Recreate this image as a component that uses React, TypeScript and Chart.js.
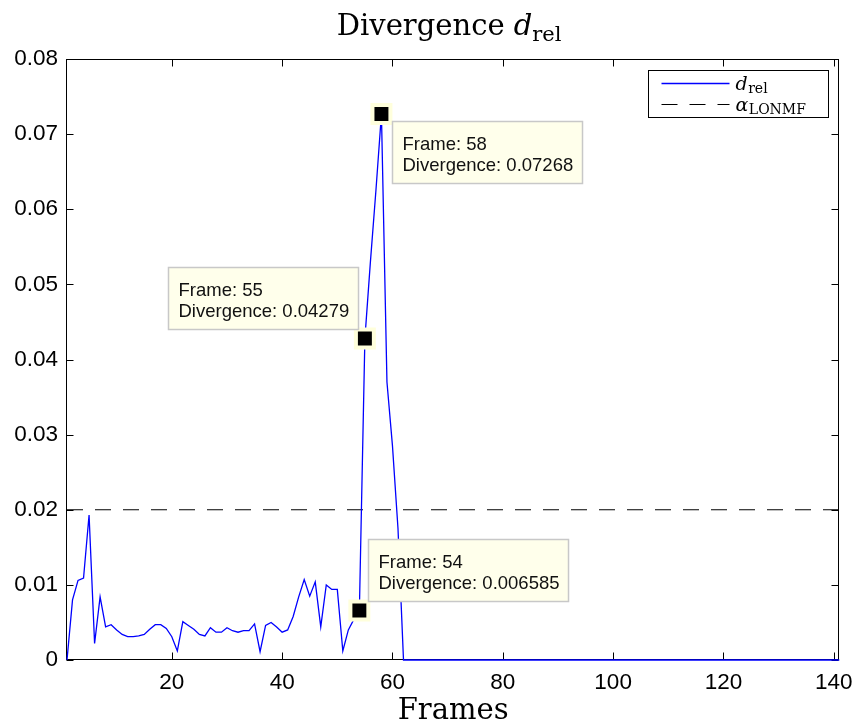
import React, { useEffect, useRef } from "react";
import { Chart, registerables } from "chart.js";

Chart.register(...registerables);

// Relative divergence per frame (frames 1..141)
const divergence: number[] = [
  0, 0.008, 0.0106, 0.0109, 0.0193, 0.0022, 0.0084, 0.0044, 0.0047, 0.004,
  0.0034, 0.0031, 0.0031, 0.0032, 0.0034, 0.0041, 0.0047, 0.0047, 0.0042, 0.0031,
  0.0012, 0.0051, 0.0046, 0.0041, 0.0034, 0.0032, 0.0043, 0.0037, 0.0037, 0.0043,
  0.0039, 0.0037, 0.0039, 0.0039, 0.0048, 0.0011, 0.0046, 0.005, 0.0044, 0.0037,
  0.004, 0.0058, 0.0084, 0.0107, 0.0085, 0.0104, 0.0044, 0.01, 0.0094, 0.0094,
  0.0012, 0.004, 0.0054, 0.006585, 0.04279, 0.053, 0.0625, 0.07268, 0.037, 0.0285,
  0.0175, 0, 0, 0, 0, 0, 0, 0, 0, 0,
  0, 0, 0, 0, 0, 0, 0, 0, 0, 0,
  0, 0, 0, 0, 0, 0, 0, 0, 0, 0,
  0, 0, 0, 0, 0, 0, 0, 0, 0, 0,
  0, 0, 0, 0, 0, 0, 0, 0, 0, 0,
  0, 0, 0, 0, 0, 0, 0, 0, 0, 0,
  0, 0, 0, 0, 0, 0, 0, 0, 0, 0,
  0, 0, 0, 0, 0, 0, 0, 0, 0, 0,
  0,
];

// Threshold level
const alphaLONMF = 0.02;

// Axis ticks
const xTickValues = [20, 40, 60, 80, 100, 120, 140];
const yTickValues = [0, 0.01, 0.02, 0.03, 0.04, 0.05, 0.06, 0.07, 0.08];
const yTickLabels = ["0", "0.01", "0.02", "0.03", "0.04", "0.05", "0.06", "0.07", "0.08"];

// Frames carrying a data tip
const tipFrames = [58, 55, 54];

const frames = divergence.map((_, i) => i + 1);
const xMin = frames[0];
const xMax = frames[frames.length - 1];

const SANS = '"Liberation Sans", Arial, Helvetica, sans-serif';
const SERIF = '"DejaVu Serif", serif';
const TIP_BG = "#FFFFEB";
const TIP_HALO = "#FFFFDC";

// Box around the plot area with inward ticks on all four sides
const axesBox = {
  id: "axesBox",
  beforeDatasetsDraw(chart: any) {
    const { ctx, chartArea: a, scales } = chart;
    const L = Math.round(a.left) - 0.5;
    const R = Math.round(a.right) - 0.5;
    const T = Math.round(a.top) + 0.5;
    const B = Math.round(a.bottom) - 0.5;
    const len = 7;
    ctx.save();
    ctx.strokeStyle = "#000";
    ctx.lineWidth = 1;
    ctx.beginPath();
    for (const v of xTickValues) {
      const x = Math.round(scales.x.getPixelForValue(v)) + 0.5;
      ctx.moveTo(x, B);
      ctx.lineTo(x, B - len);
      ctx.moveTo(x, T);
      ctx.lineTo(x, T + len);
    }
    for (const v of yTickValues) {
      const y = Math.round(scales.y.getPixelForValue(v)) + 0.5;
      ctx.moveTo(L, y);
      ctx.lineTo(L + len, y);
      ctx.moveTo(R, y);
      ctx.lineTo(R - len, y);
    }
    ctx.stroke();
    ctx.strokeRect(L, T, R - L, B - T);
    ctx.restore();
  },
};

// Title with subscript
const titlePlugin = {
  id: "subTitle",
  afterDraw(chart: any) {
    const { ctx, chartArea: a } = chart;
    const parts = [
      { t: "Divergence ", f: `29px ${SERIF}`, dy: 0 },
      { t: "d", f: `italic 29px ${SERIF}`, dy: 0 },
      { t: "rel", f: `21px ${SERIF}`, dy: 6 },
    ];
    ctx.save();
    ctx.fillStyle = "#000";
    ctx.textBaseline = "alphabetic";
    let total = 0;
    const widths = parts.map((p) => {
      ctx.font = p.f;
      const w = ctx.measureText(p.t).width;
      total += w;
      return w;
    });
    let x = (a.left + a.right) / 2 - 4 - total / 2;
    const base = 35;
    parts.forEach((p, i) => {
      ctx.font = p.f;
      ctx.fillText(p.t, x, base + p.dy);
      x += widths[i];
    });
    ctx.restore();
  },
};

// Legend box with subscripted entries
const legendPlugin = {
  id: "subLegend",
  afterDraw(chart: any) {
    const { ctx, chartArea: a } = chart;
    const ds = chart.data.datasets;
    const w = 180;
    const h = 47;
    const bx = Math.round(a.right - 11 - w) + 0.5;
    const by = Math.round(a.top + 11) + 0.5;
    ctx.save();
    ctx.fillStyle = "#fff";
    ctx.fillRect(bx, by, w, h);
    ctx.strokeStyle = "#000";
    ctx.lineWidth = 1;
    ctx.strokeRect(bx, by, w, h);
    const entries = [
      { d: ds[0], y: by + 13, main: "d", sub: "rel" },
      { d: ds[1], y: by + 34, main: "α", sub: "LONMF" },
    ];
    for (const e of entries) {
      ctx.beginPath();
      ctx.strokeStyle = e.d.borderColor;
      ctx.lineWidth = e.d.borderWidth;
      ctx.setLineDash(e.d.borderDash || []);
      ctx.moveTo(bx + 13, e.y);
      ctx.lineTo(bx + 81, e.y);
      ctx.stroke();
      ctx.setLineDash([]);
      ctx.fillStyle = "#000";
      ctx.textBaseline = "alphabetic";
      ctx.font = `italic 19px ${SERIF}`;
      const tx = bx + 87;
      ctx.fillText(e.main, tx, e.y + 6);
      const mw = ctx.measureText(e.main).width;
      ctx.font = `14px ${SERIF}`;
      ctx.fillText(e.sub, tx + mw + 0.5, e.y + 9);
    }
    ctx.restore();
  },
};

// Data tip call-outs next to the highlighted markers
const tipPlugin = {
  id: "dataTips",
  afterDatasetsDraw(chart: any) {
    const { ctx, scales } = chart;
    const place: Record<number, string> = { 58: "se", 55: "nw", 54: "ne" };
    ctx.save();
    ctx.font = `18.5px ${SANS}`;
    for (const f of tipFrames) {
      const v = divergence[f - 1];
      const px = scales.x.getPixelForValue(f);
      const py = scales.y.getPixelForValue(v);
      const l1 = `Frame: ${f}`;
      const l2 = `Divergence: ${Number(v.toPrecision(4))}`;
      const tw = Math.max(ctx.measureText(l1).width, ctx.measureText(l2).width);
      const bw = Math.round(tw + 19);
      const bh = 62;
      let bx = 0;
      let by = 0;
      const p = place[f];
      if (p === "se") {
        bx = px + 11;
        by = py + 7;
      } else if (p === "nw") {
        bx = px - 6.5 - bw;
        by = py - 9.5 - bh;
      } else {
        bx = px + 8.5;
        by = py - 10 - bh;
      }
      bx = Math.round(bx) + 0.5;
      by = Math.round(by) + 0.5;
      ctx.fillStyle = TIP_BG;
      ctx.fillRect(bx, by, bw, bh);
      ctx.strokeStyle = "#C8C8C8";
      ctx.lineWidth = 1.5;
      ctx.strokeRect(bx, by, bw, bh);
      ctx.fillStyle = "#111";
      ctx.textBaseline = "alphabetic";
      ctx.fillText(l1, bx + 10, by + 28);
      ctx.fillText(l2, bx + 10, by + 49);
    }
    ctx.restore();
  },
};

export default function App() {
  const ref = useRef<HTMLCanvasElement | null>(null);

  useEffect(() => {
    if (!ref.current) return;
    const chart = new Chart(ref.current, {
      type: "line",
      data: {
        datasets: [
          {
            label: "d_rel",
            data: frames.map((f, i) => ({ x: f, y: divergence[i] })),
            borderColor: "#0000FF",
            borderWidth: 1.3,
            pointRadius: 0,
            tension: 0,
            clip: 3,
            order: 2,
          },
          {
            label: "alpha_LONMF",
            data: [
              { x: xMin, y: alphaLONMF },
              { x: xMax, y: alphaLONMF },
            ],
            borderColor: "#000000",
            borderWidth: 1,
            borderDash: [16, 12],
            pointRadius: 0,
            order: 3,
          },
          {
            label: "tips",
            data: tipFrames.map((f) => ({ x: f, y: divergence[f - 1] })),
            showLine: false,
            pointStyle: "rect",
            pointRadius: 12.7,
            pointBorderWidth: 4,
            pointBackgroundColor: "#000000",
            pointBorderColor: TIP_HALO,
            clip: false,
            order: 1,
          } as any,
        ],
      },
      options: {
        responsive: false,
        animation: false,
        events: [],
        layout: { padding: { top: 59, right: 15, left: 0, bottom: 0 } },
        plugins: {
          legend: { display: false },
          title: { display: false },
          tooltip: { enabled: false },
        },
        scales: {
          x: {
            type: "linear",
            min: xMin,
            max: xMax,
            grid: { display: false, drawTicks: false },
            border: { display: false },
            afterBuildTicks: (s: any) => {
              s.ticks = xTickValues.map((v) => ({ value: v }));
            },
            afterFit: (s: any) => {
              s.height = 66;
              s.paddingLeft = 0;
              s.paddingRight = 0;
            },
            ticks: {
              autoSkip: false,
              maxRotation: 0,
              padding: 9,
              color: "#000",
              font: { family: SANS, size: 22.5 },
              callback: (v: any) => String(v),
            },
            title: {
              display: true,
              text: "Frames",
              color: "#000",
              font: { family: SERIF, size: 29 },
              padding: { top: 0, bottom: -3 },
            },
          },
          y: {
            type: "linear",
            min: 0,
            max: 0.08,
            grid: { display: false, drawTicks: false },
            border: { display: false },
            afterBuildTicks: (s: any) => {
              s.ticks = yTickValues.map((v) => ({ value: v }));
            },
            afterFit: (s: any) => {
              s.width = 67;
              s.paddingTop = 0;
              s.paddingBottom = 0;
            },
            ticks: {
              autoSkip: false,
              padding: 9,
              color: "#000",
              font: { family: SANS, size: 22.5 },
              callback: (_v: any, i: number) => yTickLabels[i],
            },
          },
        },
      },
      plugins: [axesBox, tipPlugin, legendPlugin, titlePlugin],
    });
    return () => chart.destroy();
  }, []);

  return (
    <div
      style={{
        position: "fixed",
        left: 0,
        top: 0,
        width: 856,
        height: 726,
        background: "#fff",
      }}
    >
      <canvas ref={ref} width={856} height={726} />
    </div>
  );
}
